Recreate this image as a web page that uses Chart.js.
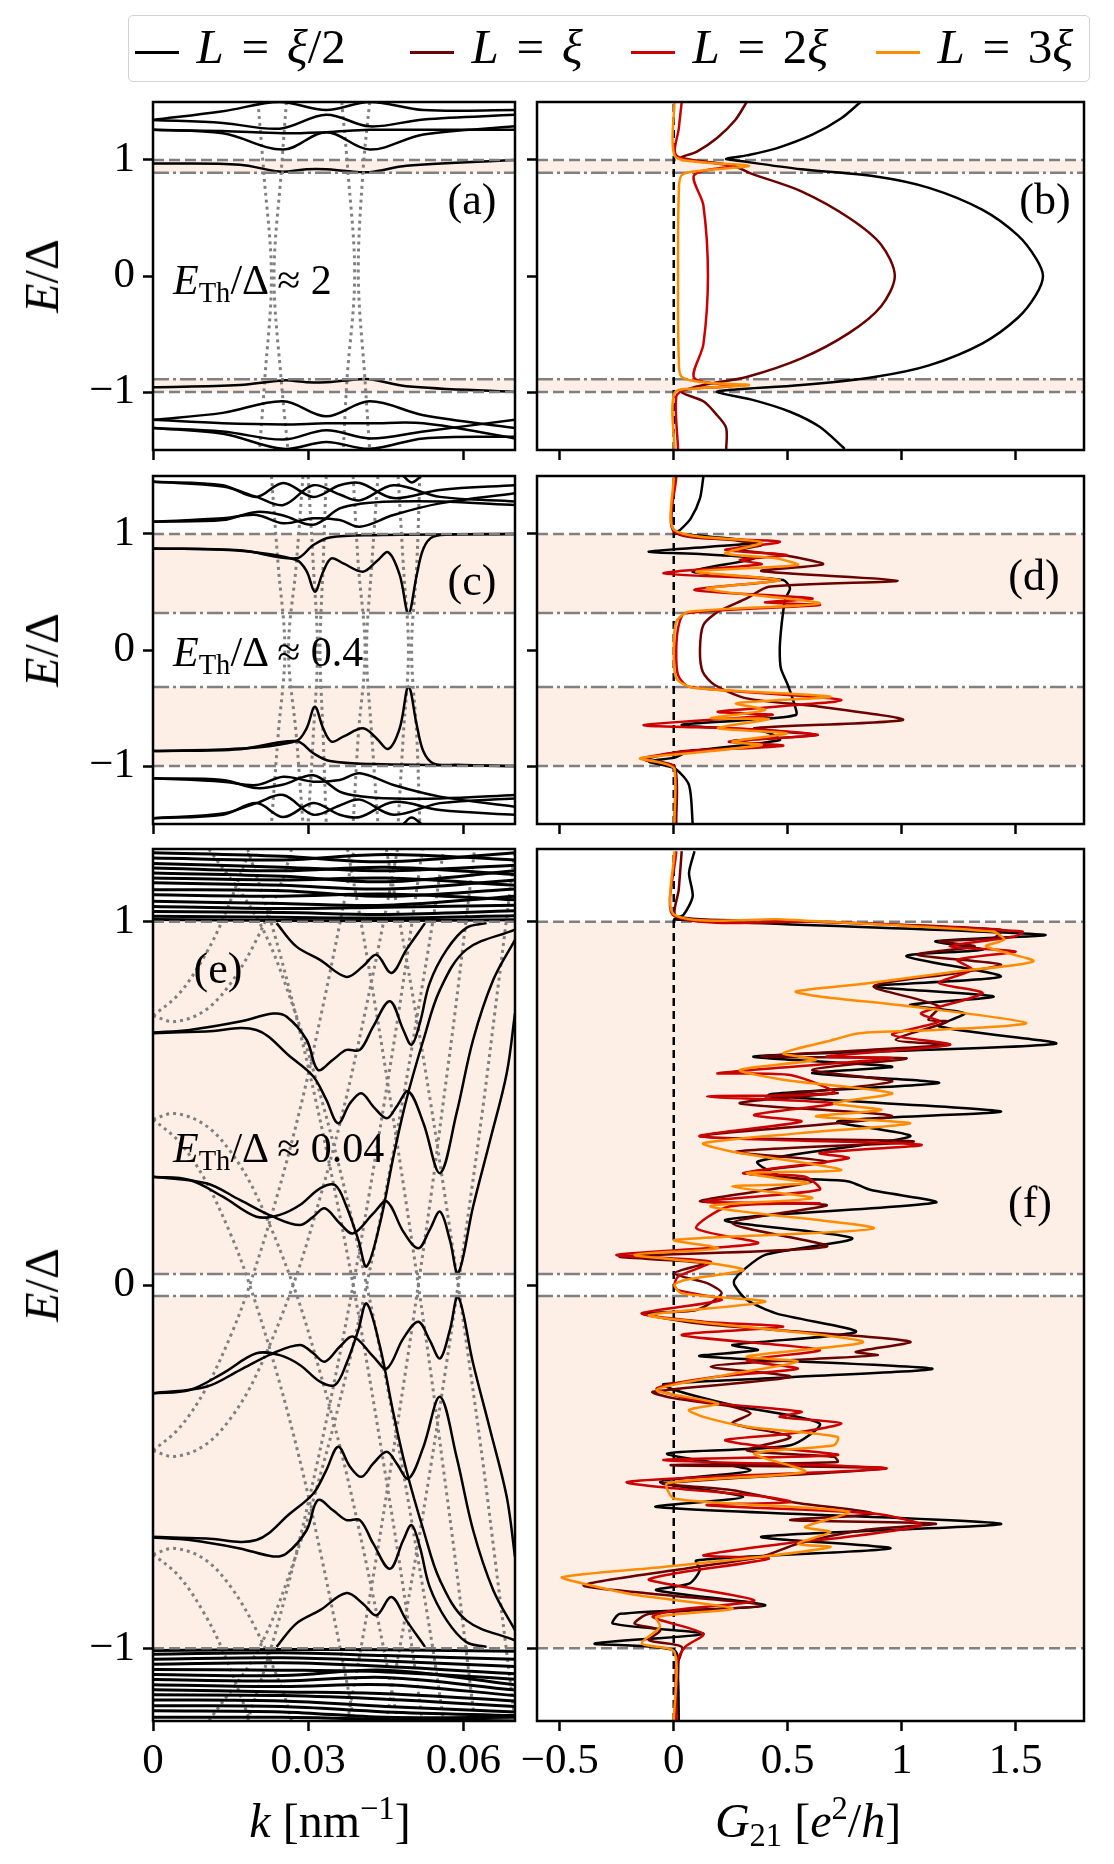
<!DOCTYPE html>
<html>
<head>
<meta charset="utf-8">
<title>Spectra and nonlocal conductance</title>
<script src="https://cdn.jsdelivr.net/npm/chart.js@4.4.1/dist/chart.umd.min.js"></script>
<style>
  html, body { margin: 0; padding: 0; background: #fff; }
  body { position: relative; width: 1114px; height: 1864px; overflow: hidden;
         font-family: 'Liberation Serif', 'DejaVu Serif', serif; color: #000; }
  canvas { position: absolute; }
  .txt { position: absolute; white-space: nowrap; line-height: 1; }
  .c { transform: translate(-50%, -50%); }
  .l { transform: translate(0, -50%); }
  .rot { transform: translate(-50%, -50%) rotate(-90deg); }
  i { font-style: italic; }
  sub, sup { font-size: 0.68em; line-height: 0; }
  sub { vertical-align: -0.28em; }
  sup { vertical-align: 0.55em; }
  .eq { margin: 0 0.36em; }
  #legend { position: absolute; left: 128px; top: 15px; width: 960px; height: 65px;
            border: 1.5px solid #d2d2d2; border-radius: 5px; background: #fff; }
  .item { position: absolute; top: 0; height: 65px; font-size: 49px; }
  .item .ln { position: absolute; left: 0; top: 35px; width: 44px; height: 3px; }
  .item .lb { position: absolute; left: 62px; top: 6px; white-space: nowrap; line-height: 1; }
</style>
</head>
<body>

<div id="legend">
  <div class="item" style="left:5.5px"><span class="ln" style="background:#000000"></span><span class="lb"><i>L</i><span class="eq">=</span><i>ξ</i>/2</span></div>
  <div class="item" style="left:280.5px"><span class="ln" style="background:#6a0000"></span><span class="lb"><i>L</i><span class="eq">=</span><i>ξ</i></span></div>
  <div class="item" style="left:501.5px"><span class="ln" style="background:#cc0000"></span><span class="lb"><i>L</i><span class="eq">=</span>2<i>ξ</i></span></div>
  <div class="item" style="left:746.5px"><span class="ln" style="background:#ff8c00"></span><span class="lb"><i>L</i><span class="eq">=</span>3<i>ξ</i></span></div>
</div>

<canvas id="pa"></canvas>
<canvas id="pb"></canvas>
<canvas id="pc"></canvas>
<canvas id="pd"></canvas>
<canvas id="pe"></canvas>
<canvas id="pf"></canvas>

<div class="txt rot" style="left:42px;top:276px;font-size:48px"><i>E</i>/Δ</div>
<div class="txt rot" style="left:42px;top:650px;font-size:48px"><i>E</i>/Δ</div>
<div class="txt rot" style="left:42px;top:1285px;font-size:48px"><i>E</i>/Δ</div>
<div class="txt c" style="left:330px;top:1821px;font-size:48px"><i>k</i> [nm<sup>−1</sup>]</div>
<div class="txt c" style="left:808px;top:1821px;font-size:48px"><i>G</i><sub>21</sub> [<i>e</i><sup>2</sup>/<i>h</i>]</div>

<div class="txt c" style="left:472px;top:200px;font-size:44px">(a)</div>
<div class="txt c" style="left:1045px;top:200px;font-size:44px">(b)</div>
<div class="txt c" style="left:472px;top:581px;font-size:44px">(c)</div>
<div class="txt c" style="left:1034px;top:576px;font-size:44px">(d)</div>
<div class="txt c" style="left:218px;top:969px;font-size:44px">(e)</div>
<div class="txt c" style="left:1030px;top:1203px;font-size:44px">(f)</div>

<div class="txt l" style="left:173px;top:280px;font-size:42px"><i>E</i><sub>Th</sub>/Δ ≈ 2</div>
<div class="txt l" style="left:173px;top:652px;font-size:42px"><i>E</i><sub>Th</sub>/Δ ≈ 0.4</div>
<div class="txt l" style="left:173px;top:1148px;font-size:42px"><i>E</i><sub>Th</sub>/Δ ≈ 0.04</div>

<script>
// ---------------- axes / reference levels ----------------
const kTicks = [0, 0.03, 0.06];
const gTicks = [-0.5, 0, 0.5, 1, 1.5];
const eTicks = [-1, 0, 1];
const kRange = [0, 0.07];
const gRange = [-0.6, 1.8];
const eHalf = [1.5, 1.5, 1.2];          // E/Δ half range per row
const gapEdge = [0.89, 0.32, 0.03];     // induced gap (dash-dot)
const deltaEdge = 1;                    // parent gap (dashed)

// ---------------- (a) spectrum, E_Th ≈ 2 ----------------
const bandsA = [
  [[0,1.345],[0.0135,1.42],[0.0245,1.50],[0.0335,1.43],[0.0419,1.50],[0.0523,1.43],[0.07,1.43]],
  [[0,1.345],[0.0135,1.32],[0.0245,1.27],[0.0335,1.39],[0.0419,1.29],[0.0523,1.35],[0.07,1.39]],
  [[0,1.26],[0.0135,1.23],[0.0252,1.09],[0.0335,1.24],[0.0419,1.09],[0.0523,1.22],[0.07,1.29]],
  [[0,1.26],[0.0135,1.25],[0.0252,1.23],[0.0335,1.24],[0.0419,1.26],[0.0523,1.26],[0.07,1.26]],
  [[0,0.97],[0.0168,0.96],[0.0245,0.90],[0.0297,0.92],[0.0335,0.92],[0.0374,0.905],[0.0419,0.895],[0.049,0.95],[0.07,1.0]],
  [[0,-0.96],[0.0168,-0.94],[0.0252,-0.90],[0.0297,-0.915],[0.0335,-0.917],[0.0374,-0.90],[0.0419,-0.89],[0.049,-0.95],[0.07,-1.0]],
  [[0,-1.24],[0.0135,-1.18],[0.0252,-1.08],[0.0335,-1.21],[0.0419,-1.08],[0.0523,-1.20],[0.07,-1.31]],
  [[0,-1.31],[0.0135,-1.34],[0.0252,-1.41],[0.0335,-1.33],[0.0419,-1.40],[0.0523,-1.34],[0.07,-1.24]],
  [[0,-1.31],[0.0135,-1.36],[0.0252,-1.49],[0.0335,-1.43],[0.0419,-1.49],[0.0523,-1.40],[0.07,-1.385]],
  [[0,-1.24],[0.0135,-1.27],[0.0252,-1.28],[0.0335,-1.27],[0.0419,-1.27],[0.0523,-1.27],[0.07,-1.40]]
];
const dotsA = [
  [[0.0203,1.5],[0.0214,0.9],[0.0229,0],[0.0216,-0.9],[0.0206,-1.5]],
  [[0.0258,1.5],[0.0248,0.9],[0.0234,0],[0.0248,-0.9],[0.0261,-1.5]],
  [[0.0365,1.5],[0.0377,0.9],[0.0390,0],[0.0375,-0.9],[0.0368,-1.5]],
  [[0.0419,1.5],[0.0406,0.9],[0.0397,0],[0.0410,-0.9],[0.0419,-1.5]]
];

// ---------------- (b) G21 vs E ----------------
const gB_half  = [[0.82,1.5],[0.735,1.36],[0.61,1.22],[0.45,1.10],[0.32,1.04],[0.23,1.01],[0.26,1.0],[0.56,0.92],[0.88,0.86],[1.12,0.76],[1.355,0.57],[1.51,0.35],[1.59,0.15],[1.62,0],[1.59,-0.16],[1.51,-0.36],[1.355,-0.58],[1.12,-0.77],[0.88,-0.87],[0.56,-0.94],[0.26,-0.98],[0.19,-1.0],[0.35,-1.07],[0.51,-1.17],[0.64,-1.30],[0.75,-1.49]];
const gB_one   = [[0.32,1.5],[0.27,1.345],[0.19,1.19],[0.10,1.07],[0.035,1.02],[0.26,0.95],[0.337,0.885],[0.56,0.73],[0.77,0.50],[0.91,0.27],[0.97,0],[0.91,-0.26],[0.77,-0.49],[0.56,-0.71],[0.32,-0.87],[0.13,-0.94],[0.035,-1.0],[0.13,-1.08],[0.19,-1.20],[0.23,-1.31],[0.23,-1.5]];
const gB_two   = [[0.035,1.5],[0.022,1.27],[0.011,1.04],[0.19,0.97],[0.26,0.95],[0.09,0.87],[0.13,0.61],[0.15,0],[0.13,-0.59],[0.09,-0.88],[0.26,-0.945],[0.05,-0.98],[0.011,-1.04],[0.019,-1.5]];
const gB_three = [[0.003,1.5],[0.003,1.04],[0.10,0.985],[0.33,0.95],[0.13,0.91],[0.035,0.87],[0.022,0.70],[0.019,0],[0.022,-0.71],[0.035,-0.87],[0.15,-0.92],[0.33,-0.94],[0.10,-0.97],[0.003,-1.01],[0.003,-1.5]];

// ---------------- (c) spectrum, E_Th ≈ 0.4 ----------------
const bandsC = [
  [[0,1.45],[0.0135,1.42],[0.02,1.32],[0.0252,1.44],[0.031,1.32],[0.0361,1.42],[0.04,1.44],[0.0465,1.31],[0.0555,1.38],[0.07,1.42]],
  [[0,1.45],[0.0135,1.41],[0.02,1.32],[0.0252,1.25],[0.031,1.42],[0.0361,1.34],[0.04,1.29],[0.0465,1.42],[0.0555,1.32],[0.07,1.28]],
  [[0,1.106],[0.0135,1.12],[0.02,1.19],[0.0252,1.16],[0.031,1.08],[0.0361,1.22],[0.04,1.26],[0.0465,1.28],[0.0555,1.28],[0.07,1.25]],
  [[0,1.106],[0.0135,1.135],[0.02,1.164],[0.0252,1.092],[0.031,1.135],[0.0361,1.121],[0.04,1.063],[0.0465,1.164],[0.0555,1.264],[0.07,1.351]],
  [[0.0484,1.5],[0.05,1.445],[0.0519,1.5]],
  [[0,0.876],[0.0168,0.855],[0.0277,0.776],[0.0297,0.68],[0.0313,0.503],[0.0329,0.675],[0.0345,0.79],[0.0368,0.747],[0.0406,0.675],[0.0432,0.762],[0.0455,0.842],[0.0477,0.647],[0.0494,0.316],[0.051,0.647],[0.0523,0.876],[0.0542,0.977],[0.0587,0.997],[0.07,1.0]],
  [[0,0.876],[0.0168,0.86],[0.0277,0.79],[0.031,0.905],[0.0342,0.97],[0.0426,0.99],[0.07,1.0]],
  [[0,-0.871],[0.0168,-0.85],[0.0277,-0.784],[0.0297,-0.675],[0.0313,-0.489],[0.0329,-0.675],[0.0345,-0.79],[0.0368,-0.747],[0.0406,-0.675],[0.0432,-0.76],[0.0455,-0.853],[0.0477,-0.675],[0.0494,-0.316],[0.051,-0.647],[0.0523,-0.876],[0.0542,-0.977],[0.0587,-0.99],[0.07,-1.0]],
  [[0,-0.871],[0.0168,-0.855],[0.0277,-0.784],[0.031,-0.89],[0.0342,-0.957],[0.0426,-0.983],[0.07,-1.0]],
  [[0,-1.45],[0.0135,-1.42],[0.02,-1.32],[0.0252,-1.44],[0.031,-1.32],[0.0361,-1.42],[0.04,-1.44],[0.0465,-1.31],[0.0555,-1.38],[0.07,-1.42]],
  [[0,-1.45],[0.0135,-1.41],[0.02,-1.32],[0.0252,-1.25],[0.031,-1.42],[0.0361,-1.34],[0.04,-1.29],[0.0465,-1.42],[0.0555,-1.32],[0.07,-1.28]],
  [[0,-1.106],[0.0135,-1.12],[0.02,-1.19],[0.0252,-1.16],[0.031,-1.08],[0.0361,-1.22],[0.04,-1.26],[0.0465,-1.28],[0.0555,-1.28],[0.07,-1.25]],
  [[0,-1.106],[0.0135,-1.135],[0.02,-1.164],[0.0252,-1.092],[0.031,-1.135],[0.0361,-1.121],[0.04,-1.063],[0.0465,-1.164],[0.0555,-1.264],[0.07,-1.351]],
  [[0.0484,-1.5],[0.05,-1.445],[0.0519,-1.5]]
];
const dotsC = [
  [[0.0229,1.5],[0.0242,0.733],[0.0255,0],[0.0242,-0.733],[0.0229,-1.5]],
  [[0.029,1.5],[0.0277,0.733],[0.0262,0],[0.0277,-0.733],[0.029,-1.5]],
  [[0.030,1.5],[0.031,0.733],[0.0318,0],[0.031,-0.733],[0.030,-1.5]],
  [[0.0335,1.5],[0.0329,0.733],[0.0323,0],[0.0329,-0.733],[0.0335,-1.5]],
  [[0.0387,1.5],[0.0397,0.733],[0.041,0],[0.0397,-0.733],[0.0387,-1.5]],
  [[0.0435,1.5],[0.0423,0.733],[0.0413,0],[0.0423,-0.733],[0.0435,-1.5]],
  [[0.0474,1.5],[0.0484,0.733],[0.0494,0],[0.0484,-0.733],[0.0474,-1.5]],
  [[0.0516,1.5],[0.051,0.733],[0.050,0],[0.051,-0.733],[0.0516,-1.5]]
];

// ---------------- (d) G21 vs E ----------------
const gD_half  = [[0.13,1.494],[0.115,1.307],[0.075,1.135],[0.027,1.034],[0.003,1.006],[0.16,0.977],[0.37,0.928],[0.16,0.89],[-0.11,0.848],[0.13,0.825],[0.353,0.79],[0.083,0.675],[0.48,0.603],[0.51,0.532],[0.49,0.445],[0.48,0.33],[0.47,0.158],[0.465,0],[0.47,-0.158],[0.50,-0.30],[0.53,-0.474],[0.536,-0.56],[0.32,-0.603],[0.035,-0.647],[0.40,-0.704],[0.465,-0.776],[0.067,-0.876],[0.003,-0.928],[-0.11,-0.963],[0.003,-1.02],[0.067,-1.164],[0.083,-1.494]];
const gD_one   = [[0.003,1.494],[0.003,1.02],[0.258,0.948],[0.385,0.905],[0.29,0.862],[0.48,0.819],[0.655,0.739],[0.385,0.681],[0.982,0.598],[0.417,0.546],[0.32,0.445],[0.194,0.33],[0.13,0.216],[0.115,0],[0.127,-0.187],[0.178,-0.30],[0.32,-0.417],[0.64,-0.489],[1.005,-0.603],[0.353,-0.675],[0.624,-0.733],[0.258,-0.784],[0.449,-0.825],[0.05,-0.871],[-0.124,-0.948],[0.003,-1.006],[0.011,-1.494]];
const gD_two   = [[0.011,1.494],[0.003,1.02],[0.465,0.934],[0.226,0.862],[0.496,0.819],[0.29,0.776],[0.385,0.739],[-0.045,0.661],[0.465,0.603],[0.091,0.517],[0.608,0.445],[0.40,0.41],[0.64,0.388],[0.05,0.316],[0.022,0.216],[0.011,0],[0.019,-0.216],[0.067,-0.316],[0.735,-0.431],[0.194,-0.532],[0.433,-0.56],[-0.132,-0.647],[0.321,-0.681],[0.632,-0.733],[0.242,-0.79],[0.48,-0.825],[0.05,-0.876],[-0.14,-0.934],[-0.045,-0.977],[0.003,-1.006],[0.003,-1.494]];
const gD_three = [[0,1.494],[0.003,1.034],[0.385,0.928],[0.226,0.833],[0.449,0.79],[0.544,0.733],[0.099,0.675],[0.465,0.603],[0.146,0.526],[0.64,0.402],[0.067,0.33],[0.011,0.244],[0,0],[0.011,-0.244],[0.083,-0.325],[0.687,-0.402],[0.274,-0.46],[0.40,-0.517],[0.162,-0.589],[0.417,-0.595],[0.194,-0.675],[0.496,-0.718],[0.258,-0.79],[0.385,-0.819],[0.067,-0.89],[-0.148,-0.934],[-0.045,-0.977],[0.003,-1.026],[0.003,-1.494]];

// ---------------- (e) spectrum, E_Th ≈ 0.04 ----------------
const bandsE = [
  [[0.0239,0.996],[0.0277,0.932],[0.0323,0.895],[0.0374,0.848],[0.0406,0.877],[0.0432,0.909],[0.0461,0.859],[0.049,0.923],[0.0526,0.996]],
  [[0,0.695],[0.0071,0.702],[0.0168,0.725],[0.0232,0.747],[0.0258,0.739],[0.0297,0.675],[0.0319,0.592],[0.0348,0.62],[0.0374,0.647],[0.04,0.647],[0.0426,0.712],[0.0458,0.781],[0.0484,0.702],[0.05,0.661],[0.0516,0.721],[0.0535,0.831],[0.0568,0.923],[0.0606,0.983],[0.0645,0.996]],
  [[0,0.693],[0.0103,0.698],[0.02,0.702],[0.0265,0.629],[0.031,0.574],[0.0335,0.51],[0.0358,0.445],[0.0381,0.50],[0.0403,0.528],[0.0426,0.491],[0.0452,0.459],[0.0471,0.491],[0.0494,0.533],[0.0523,0.445],[0.0555,0.308],[0.0587,0.473],[0.0619,0.675],[0.0658,0.84],[0.07,0.95]],
  [[0,0.298],[0.0071,0.289],[0.0135,0.243],[0.02,0.188],[0.0245,0.193],[0.0284,0.22],[0.0323,0.266],[0.0352,0.275],[0.0374,0.216],[0.0397,0.124],[0.0413,0.051],[0.0439,0.17],[0.0465,0.354],[0.049,0.51],[0.0523,0.675],[0.0555,0.813],[0.0606,0.923],[0.07,0.978]],
  [[0,0.298],[0.0103,0.28],[0.0168,0.234],[0.0232,0.188],[0.0284,0.165],[0.031,0.188],[0.0332,0.211],[0.0361,0.17],[0.0387,0.142],[0.0426,0.197],[0.0452,0.23],[0.0484,0.147],[0.0513,0.101],[0.0535,0.152],[0.0555,0.202],[0.0574,0.124],[0.059,0.032],[0.0619,0.216],[0.0652,0.399],[0.0684,0.583],[0.07,0.748]],
  [[0.0239,-0.996],[0.0277,-0.932],[0.0323,-0.895],[0.0374,-0.848],[0.0406,-0.877],[0.0432,-0.909],[0.0461,-0.859],[0.049,-0.923],[0.0526,-0.996]],
  [[0,-0.695],[0.0071,-0.702],[0.0168,-0.725],[0.0232,-0.747],[0.0258,-0.739],[0.0297,-0.675],[0.0319,-0.592],[0.0348,-0.62],[0.0374,-0.647],[0.04,-0.647],[0.0426,-0.712],[0.0458,-0.781],[0.0484,-0.702],[0.05,-0.661],[0.0516,-0.721],[0.0535,-0.831],[0.0568,-0.923],[0.0606,-0.983],[0.0645,-0.996]],
  [[0,-0.693],[0.0103,-0.698],[0.02,-0.702],[0.0265,-0.629],[0.031,-0.574],[0.0335,-0.51],[0.0358,-0.445],[0.0381,-0.50],[0.0403,-0.528],[0.0426,-0.491],[0.0452,-0.459],[0.0471,-0.491],[0.0494,-0.533],[0.0523,-0.445],[0.0555,-0.308],[0.0587,-0.473],[0.0619,-0.675],[0.0658,-0.84],[0.07,-0.95]],
  [[0,-0.298],[0.0071,-0.289],[0.0135,-0.243],[0.02,-0.188],[0.0245,-0.193],[0.0284,-0.22],[0.0323,-0.266],[0.0352,-0.275],[0.0374,-0.216],[0.0397,-0.124],[0.0413,-0.051],[0.0439,-0.17],[0.0465,-0.354],[0.049,-0.51],[0.0523,-0.675],[0.0555,-0.813],[0.0606,-0.923],[0.07,-0.978]],
  [[0,-0.298],[0.0103,-0.28],[0.0168,-0.234],[0.0232,-0.188],[0.0284,-0.165],[0.031,-0.188],[0.0332,-0.211],[0.0361,-0.17],[0.0387,-0.142],[0.0426,-0.197],[0.0452,-0.23],[0.0484,-0.147],[0.0513,-0.101],[0.0535,-0.152],[0.0555,-0.202],[0.0574,-0.124],[0.059,-0.032],[0.0619,-0.216],[0.0652,-0.399],[0.0684,-0.583],[0.07,-0.748]]
];
const denseE = [
  [[0,1.19],[0.025,1.18],[0.045,1.165],[0.07,1.19]],
  [[0,1.175],[0.025,1.17],[0.045,1.185],[0.07,1.17]],
  [[0,1.16],[0.025,1.15],[0.045,1.14],[0.07,1.155]],
  [[0,1.148],[0.025,1.14],[0.045,1.15],[0.07,1.13]],
  [[0,1.134],[0.025,1.125],[0.045,1.11],[0.07,1.14]],
  [[0,1.12],[0.025,1.115],[0.045,1.12],[0.07,1.10]],
  [[0,1.107],[0.025,1.10],[0.045,1.09],[0.07,1.115]],
  [[0,1.088],[0.025,1.085],[0.045,1.07],[0.07,1.09]],
  [[0,1.074],[0.025,1.07],[0.045,1.076],[0.07,1.06]],
  [[0,1.056],[0.025,1.05],[0.045,1.045],[0.07,1.07]],
  [[0,1.042],[0.025,1.036],[0.045,1.04],[0.07,1.045]],
  [[0,1.028],[0.025,1.025],[0.045,1.02],[0.07,1.03]],
  [[0,1.015],[0.025,1.012],[0.045,1.01],[0.07,1.016]],
  [[0,1.006],[0.025,1.003],[0.045,1.003],[0.07,1.005]],
  [[0,-1.006],[0.025,-1.003],[0.045,-1.004],[0.07,-1.008]],
  [[0,-1.016],[0.025,-1.012],[0.045,-1.02],[0.07,-1.03]],
  [[0,-1.03],[0.025,-1.026],[0.045,-1.035],[0.07,-1.05]],
  [[0,-1.044],[0.025,-1.04],[0.045,-1.05],[0.07,-1.07]],
  [[0,-1.058],[0.025,-1.06],[0.045,-1.065],[0.07,-1.085]],
  [[0,-1.072],[0.025,-1.075],[0.045,-1.06],[0.07,-1.10]],
  [[0,-1.086],[0.025,-1.09],[0.045,-1.08],[0.07,-1.115]],
  [[0,-1.10],[0.025,-1.105],[0.045,-1.10],[0.07,-1.13]],
  [[0,-1.114],[0.025,-1.12],[0.045,-1.125],[0.07,-1.145]],
  [[0,-1.128],[0.025,-1.13],[0.045,-1.14],[0.07,-1.16]],
  [[0,-1.142],[0.025,-1.145],[0.045,-1.16],[0.07,-1.175]],
  [[0,-1.158],[0.025,-1.16],[0.045,-1.175],[0.07,-1.185]],
  [[0,-1.172],[0.025,-1.175],[0.045,-1.19],[0.07,-1.19]],
  [[0,-1.19],[0.025,-1.19],[0.045,-1.195],[0.07,-1.2]]
];
const dotsE = [
  [[0,-0.456],[0.005,-0.395],[0.01,-0.291],[0.015,-0.14],[0.0187,0],[0.0241,0.25],[0.0287,0.5],[0.0326,0.75],[0.0362,1],[0.0389,1.2]],
  [[0,-0.456],[0.0042,-0.472],[0.01,-0.441],[0.015,-0.367],[0.02,-0.247],[0.0271,0],[0.0325,0.25],[0.0371,0.5],[0.041,0.75],[0.0446,1],[0.0473,1.2]],
  [[0,0.741],[0.005,0.801],[0.01,0.906],[0.0137,1.013],[0.0187,1.197]],
  [[0,0.741],[0.0042,0.725],[0.01,0.755],[0.015,0.83],[0.02,0.95],[0.025,1.114],[0.0268,1.2]],
  [[0.0183,-1.2],[0.0228,-1],[0.0275,-0.75],[0.0316,-0.5],[0.0353,-0.25],[0.0387,0],[0.0418,0.25],[0.0447,0.5],[0.0475,0.75],[0.0501,1],[0.0521,1.2]],
  [[0.0108,-1.2],[0.0205,-1],[0.0275,-0.75],[0.0328,-0.5],[0.0373,-0.25],[0.0413,0],[0.0449,0.25],[0.0482,0.5],[0.0512,0.75],[0.0541,1],[0.0562,1.2]],
  [[0.0376,-1.2],[0.0402,-1],[0.0432,-0.75],[0.046,-0.5],[0.0487,-0.25],[0.0513,0],[0.0538,0.25],[0.0561,0.5],[0.0584,0.75],[0.0605,1],[0.0622,1.2]],
  [[0.0451,-1.2],[0.0477,-1],[0.0508,-0.75],[0.0537,-0.5],[0.0564,-0.25],[0.059,0],[0.0615,0.25],[0.0639,0.5],[0.0661,0.75],[0.0683,1],[0.07,1.2]],
  [[0,0.456],[0.005,0.395],[0.01,0.291],[0.015,0.14],[0.0187,0],[0.0241,-0.25],[0.0287,-0.5],[0.0326,-0.75],[0.0362,-1],[0.0389,-1.2]],
  [[0,0.456],[0.0042,0.472],[0.01,0.441],[0.015,0.367],[0.02,0.247],[0.0271,0],[0.0325,-0.25],[0.0371,-0.5],[0.041,-0.75],[0.0446,-1],[0.0473,-1.2]],
  [[0,-0.741],[0.005,-0.801],[0.01,-0.906],[0.0137,-1.013],[0.0187,-1.197]],
  [[0,-0.741],[0.0042,-0.725],[0.01,-0.755],[0.015,-0.83],[0.02,-0.95],[0.025,-1.114],[0.0268,-1.2]],
  [[0.0183,1.2],[0.0228,1],[0.0275,0.75],[0.0316,0.5],[0.0353,0.25],[0.0387,0],[0.0418,-0.25],[0.0447,-0.5],[0.0475,-0.75],[0.0501,-1],[0.0521,-1.2]],
  [[0.0108,1.2],[0.0205,1],[0.0275,0.75],[0.0328,0.5],[0.0373,0.25],[0.0413,0],[0.0449,-0.25],[0.0482,-0.5],[0.0512,-0.75],[0.0541,-1],[0.0562,-1.2]],
  [[0.0376,1.2],[0.0402,1],[0.0432,0.75],[0.046,0.5],[0.0487,0.25],[0.0513,0],[0.0538,-0.25],[0.0561,-0.5],[0.0584,-0.75],[0.0605,-1],[0.0622,-1.2]],
  [[0.0451,1.2],[0.0477,1],[0.0508,0.75],[0.0537,0.5],[0.0564,0.25],[0.059,0],[0.0615,-0.25],[0.0639,-0.5],[0.0661,-0.75],[0.0683,-1],[0.07,-1.2]]
];

// ---------------- (f) G21 vs E ----------------
const gF_half = [[0.091,1.194],[0.067,1.134],[0.083,1.07],[0.043,1.019],[0.003,1.006],[1.626,0.964],[1.149,0.946],[1.355,0.923],[1.021,0.905],[1.435,0.849],[0.878,0.822],[1.403,0.794],[1.037,0.771],[1.276,0.748],[1.164,0.712],[1.674,0.664],[0.353,0.629],[0.958,0.601],[0.608,0.583],[1.164,0.556],[0.417,0.523],[1.435,0.478],[0.719,0.45],[1.037,0.409],[0.369,0.34],[0.48,0.298],[0.767,0.285],[0.862,0.262],[1.149,0.227],[0.226,0.179],[0.783,0.129],[0.401,0.083],[0.305,0.041],[0.266,0.014],[0.266,0],[0.321,-0.041],[0.449,-0.078],[0.799,-0.129],[0.258,-0.165],[0.369,-0.179],[0.115,-0.196],[1.133,-0.23],[0.512,-0.254],[-0.045,-0.273],[0.003,-0.289],[0.258,-0.331],[0.64,-0.381],[0.512,-0.441],[-0.029,-0.464],[0.337,-0.51],[-0.06,-0.542],[0.305,-0.583],[-0.076,-0.611],[1.435,-0.657],[0.385,-0.693],[0.95,-0.725],[0.099,-0.758],[0.115,-0.785],[0.067,-0.822],[-0.076,-0.84],[0.401,-0.882],[-0.235,-0.905],[-0.267,-0.932],[0.13,-0.96],[-0.347,-0.987],[0.003,-1.006],[0.019,-1.088],[0.022,-1.2]];
const gF_one = [[0.035,1.194],[0.022,1.088],[0.011,1.015],[0.48,1.003],[1.435,0.978],[1.403,0.955],[1.164,0.946],[1.32,0.932],[1.07,0.909],[1.435,0.882],[1.244,0.859],[0.878,0.822],[1.164,0.767],[1.117,0.73],[1.2,0.725],[0.974,0.675],[1.21,0.661],[0.385,0.629],[1.021,0.624],[0.608,0.592],[0.958,0.56],[0.401,0.519],[0.719,0.528],[0.29,0.50],[0.958,0.464],[0.115,0.409],[1.053,0.395],[0.274,0.367],[0.671,0.34],[0.321,0.308],[0.608,0.285],[0.115,0.23],[0.671,0.22],[0.258,0.17],[0.671,0.106],[-0.235,0.078],[0.13,0.06],[0.003,0.032],[0.146,0.005],[0.21,-0.023],[0.099,-0.069],[-0.14,-0.078],[0.115,-0.106],[0.449,-0.124],[1.037,-0.156],[0.799,-0.184],[0.894,-0.193],[0.512,-0.207],[0.162,-0.225],[0.512,-0.253],[-0.092,-0.294],[0.003,-0.312],[0.258,-0.335],[0.337,-0.354],[0.258,-0.381],[0.512,-0.418],[0.321,-0.455],[0.703,-0.473],[0.719,-0.487],[-0.013,-0.496],[0.926,-0.505],[-0.045,-0.546],[0.258,-0.565],[0.512,-0.597],[0.878,-0.629],[0.512,-0.647],[1.149,-0.657],[0.83,-0.675],[0.544,-0.712],[0.385,-0.748],[0.099,-0.776],[-0.395,-0.826],[-0.108,-0.849],[0.385,-0.882],[-0.108,-0.905],[-0.172,-0.932],[-0.06,-0.95],[-0.108,-0.978],[0.035,-0.996],[0.019,-1.04],[0.011,-1.2]];
const gF_two = [[0.011,1.194],[0.003,1.015],[0.64,1.0],[1.53,0.973],[1.5,0.96],[1.21,0.932],[1.5,0.918],[1.244,0.895],[1.308,0.868],[1.164,0.831],[1.355,0.803],[1.085,0.748],[1.164,0.725],[0.958,0.689],[1.21,0.661],[0.671,0.629],[0.958,0.624],[0.194,0.583],[0.512,0.578],[0.703,0.528],[0.146,0.519],[0.703,0.50],[0.353,0.468],[0.56,0.45],[0.115,0.409],[1.085,0.386],[0.64,0.363],[0.767,0.349],[0.305,0.308],[0.576,0.298],[0.64,0.262],[0.13,0.23],[0.64,0.225],[0.242,0.216],[0.099,0.156],[0.369,0.115],[-0.251,0.083],[0.162,0.064],[0.019,0.023],[0.003,0],[0.019,-0.014],[0.21,-0.041],[-0.14,-0.078],[0.13,-0.101],[0.48,-0.115],[0.035,-0.138],[0.64,-0.179],[0.321,-0.207],[0.544,-0.23],[0.178,-0.253],[-0.076,-0.285],[0.13,-0.321],[0.56,-0.349],[0.465,-0.363],[0.735,-0.381],[0.512,-0.409],[0.226,-0.427],[0.401,-0.445],[0.719,-0.468],[-0.045,-0.482],[0.934,-0.505],[-0.204,-0.542],[0.401,-0.583],[0.512,-0.597],[0.146,-0.606],[0.878,-0.629],[1.085,-0.661],[0.703,-0.698],[0.544,-0.707],[0.13,-0.744],[0.417,-0.753],[0.003,-0.794],[-0.108,-0.812],[0.353,-0.868],[0.003,-0.895],[-0.092,-0.914],[0.13,-0.96],[0.05,-0.996],[0.011,-1.042],[0.011,-1.2]];
const gF_three = [[0.003,1.194],[0.003,1.019],[0.48,1.006],[1.40,0.973],[1.45,0.95],[1.37,0.932],[1.578,0.891],[1.244,0.863],[0.862,0.831],[0.536,0.808],[0.64,0.794],[1.037,0.767],[1.546,0.721],[1.149,0.702],[0.815,0.693],[0.671,0.67],[0.48,0.638],[0.624,0.62],[0.29,0.592],[0.48,0.565],[0.958,0.528],[0.703,0.50],[0.91,0.482],[0.624,0.464],[1.037,0.445],[0.56,0.418],[0.13,0.39],[0.258,0.367],[0.735,0.317],[0.321,0.308],[0.592,0.28],[0.258,0.271],[0.608,0.239],[0.162,0.216],[0.878,0.156],[0.003,0.124],[0.194,0.101],[-0.172,0.083],[0.162,0.06],[0.305,0.041],[0.05,0.014],[0.003,0],[0.035,-0.023],[0.401,-0.046],[-0.108,-0.083],[0.099,-0.101],[0.83,-0.156],[0.321,-0.197],[0.544,-0.211],[0.226,-0.248],[-0.076,-0.289],[0.194,-0.326],[0.067,-0.344],[0.13,-0.363],[0.321,-0.39],[0.719,-0.418],[0.703,-0.441],[0.353,-0.464],[0.576,-0.514],[-0.029,-0.546],[0.003,-0.588],[0.767,-0.624],[0.576,-0.666],[0.687,-0.68],[0.544,-0.712],[0.687,-0.721],[0.385,-0.748],[-0.045,-0.776],[-0.49,-0.804],[-0.395,-0.822],[-0.156,-0.854],[0.258,-0.89],[-0.076,-0.914],[-0.06,-0.941],[-0.14,-0.987],[0.003,-1.01],[0,-1.2]];

// ---------------- styling ----------------
const GREY = '#808080';
const SHADE = 'rgb(253,239,230)';
const C_HALF = '#000000', C_ONE = '#6a0000', C_TWO = '#cc0000', C_THREE = '#ff8c00';
const DASH = [11, 5];
const DASHDOT = [16, 4, 3, 4];
const DOTS = [3, 4];
const FONT = "'Liberation Serif', 'DejaVu Serif', serif";

// pixel boxes of the three rows (plot area)
const rows = [{ top: 102, bottom: 450 }, { top: 476, bottom: 824 }, { top: 849, bottom: 1721 }];
const HEAD = 40;   // room above each plot for the tick-label padding

const fmt = v => String(v).replace('-', '\u2212');

function line(arr, color, width, extra) {
  return Object.assign({
    data: arr.map(([x, y]) => ({ x, y })),
    borderColor: color, borderWidth: width, showLine: true,
    pointRadius: 0, pointHoverRadius: 0, fill: false, tension: 0.3
  }, extra || {});
}

const panelDecor = {
  id: 'panelDecor',
  beforeDatasetsDraw(chart, args, opts) {
    const { ctx, chartArea: a, scales: { y } } = chart;
    ctx.save();
    ctx.fillStyle = SHADE;
    (opts.bands || []).forEach(([lo, hi]) => {
      const y1 = y.getPixelForValue(hi), y2 = y.getPixelForValue(lo);
      ctx.fillRect(a.left, y1, a.right - a.left, y2 - y1);
    });
    ctx.restore();
  },
  afterDatasetsDraw(chart) {
    const { ctx, chartArea: a } = chart;
    ctx.save();
    ctx.strokeStyle = '#000';
    ctx.lineWidth = 2.5;
    ctx.strokeRect(a.left, a.top, a.right - a.left, a.bottom - a.top);
    ctx.restore();
  }
};

function makePanel(id, isK, r, curves) {
  const row = rows[r];
  const bottomRow = r === 2;
  const axisH = bottomRow ? 70 : 40;
  const yW = isK ? 153 : 40;
  const cLeft = isK ? 0 : 497;
  const cTop = row.top - HEAD;
  const cv = document.getElementById(id);
  cv.width = isK ? 518 : 590;
  cv.height = row.bottom - cTop + axisH;
  cv.style.left = cLeft + 'px';
  cv.style.top = cTop + 'px';

  const xr = isK ? kRange : gRange;
  const e = eHalf[r];
  const g = gapEdge[r];
  const refOrder = isK ? 0 : 9;
  const refs = [[deltaEdge, DASH], [-deltaEdge, DASH], [g, DASHDOT], [-g, DASHDOT]].map(([v, d]) =>
    line([[xr[0], v], [xr[1], v]], GREY, 2.5, { borderDash: d, order: refOrder, tension: 0 }));
  if (!isK) refs.push(line([[0, -e], [0, e]], '#000', 2.5, { borderDash: [8, 5], order: 8, tension: 0 }));

  const tickFont = { family: FONT, size: 43 };
  new Chart(cv, {
    type: 'scatter',
    data: { datasets: refs.concat(curves) },
    options: {
      responsive: false, maintainAspectRatio: false, animation: false,
      layout: { padding: { top: HEAD, right: 3, left: 0, bottom: 0 } },
      events: [],
      plugins: {
        legend: { display: false }, tooltip: { enabled: false },
        panelDecor: { bands: [[g, deltaEdge], [-deltaEdge, -g]] }
      },
      scales: {
        x: {
          type: 'linear', min: xr[0], max: xr[1],
          afterBuildTicks: s => { s.ticks = (isK ? kTicks : gTicks).map(v => ({ value: v })); },
          afterFit: s => { s.height = axisH; },
          border: { display: false },
          grid: { drawOnChartArea: false, drawTicks: true, tickLength: 10, tickWidth: 2.5, tickColor: '#000', color: '#000' },
          ticks: { display: bottomRow, autoSkip: false, maxRotation: 0, padding: 5, color: '#000', font: tickFont, callback: v => fmt(v) }
        },
        y: {
          type: 'linear', min: -e, max: e,
          afterBuildTicks: s => { s.ticks = eTicks.map(v => ({ value: v })); },
          afterFit: s => { s.width = yW; },
          border: { display: false },
          grid: { drawOnChartArea: false, drawTicks: true, tickLength: 10, tickWidth: 2.5, tickColor: '#000', color: '#000' },
          ticks: { display: isK, autoSkip: false, padding: 8, color: '#000', font: tickFont, callback: v => fmt(v) }
        }
      }
    },
    plugins: [panelDecor]
  });
}

const solid = (arr, w) => arr.map(c => line(c, '#000', w || 2.5, { order: 10, tension: 0.35 }));
const dotted = arr => arr.map(c => line(c, GREY, 3, { order: 20, tension: 0.35, borderDash: DOTS }));
const gCurves = (h, one, two, three, t) => [
  line(three, C_THREE, 2.5, { order: 1, tension: t }),
  line(two, C_TWO, 2.5, { order: 2, tension: t }),
  line(one, C_ONE, 2.5, { order: 3, tension: t }),
  line(h, C_HALF, 2.5, { order: 4, tension: t })
];

makePanel('pa', true, 0, solid(bandsA).concat(dotted(dotsA)));
makePanel('pb', false, 0, gCurves(gB_half, gB_one, gB_two, gB_three, 0.3));
makePanel('pc', true, 1, solid(bandsC).concat(dotted(dotsC)));
makePanel('pd', false, 1, gCurves(gD_half, gD_one, gD_two, gD_three, 0.25));
makePanel('pe', true, 2, solid(bandsE).concat(solid(denseE, 3)).concat(dotted(dotsE)));
makePanel('pf', false, 2, gCurves(gF_half, gF_one, gF_two, gF_three, 0.25));
</script>
</body>
</html>
